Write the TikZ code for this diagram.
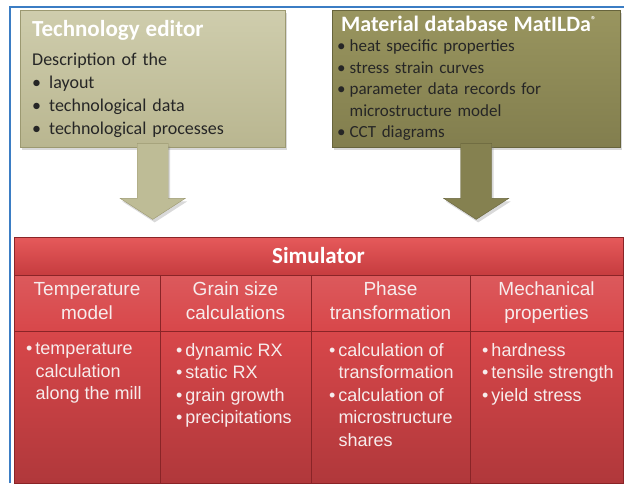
\documentclass[tikz,border=0pt]{standalone}
\usepackage{fontspec}
\setmainfont{Carlito}
\newfontfamily\simfont{Liberation Sans}
\usetikzlibrary{positioning,shadows}

\definecolor{slideblue}{HTML}{3B7DC4}
\definecolor{techtop}{HTML}{CFCDAD}
\definecolor{techbot}{HTML}{B9B690}
\definecolor{techline}{HTML}{9C9971}
\definecolor{mattop}{HTML}{99955F}
\definecolor{matbot}{HTML}{827E4E}
\definecolor{matline}{HTML}{67643C}
\definecolor{arrowlight}{HTML}{BEBC96}
\definecolor{arrowdark}{HTML}{858150}
\definecolor{simtop}{HTML}{E65A5B}
\definecolor{simmid}{HTML}{C63C3F}
\definecolor{simcell}{HTML}{D8474A}
\definecolor{simbot}{HTML}{B0383B}
\definecolor{simline}{HTML}{8A2427}
\definecolor{simtext}{HTML}{F7ECEC}

\newcommand{\boxtitle}{\fontsize{22}{24}\selectfont\bfseries\color{white}}
\newcommand{\hang}{\hphantom{\textbullet\,}}

\begin{document}
\begin{tikzpicture}[x=1pt, y=1pt,
  frameline/.style={draw=slideblue, line width=1.2pt},
  softshadow/.style={drop shadow={opacity=0.3, shadow xshift=2pt, shadow yshift=-3pt}},
  techbox/.style={draw=techline, top color=techtop, bottom color=techbot, softshadow,
    anchor=north west, align=left, minimum height=137pt, text width=241pt,
    inner xsep=12pt, inner ysep=0pt, font=\fontsize{18}{22.8}\selectfont, text=black!85},
  matbox/.style={draw=matline, top color=mattop, bottom color=matbot, softshadow,
    anchor=north west, align=left, minimum height=137pt, text width=278pt,
    inner xsep=5pt, inner ysep=0pt, font=\fontsize{17}{21.6}\selectfont, text=black!85},
  lightarrow/.style={draw=techline, fill=arrowlight, softshadow},
  darkarrow/.style={draw=matline, fill=arrowdark, softshadow},
  simtitle/.style={draw=simline, top color=simtop, bottom color=simmid, softshadow,
    text=white, font=\fontsize{23}{26}\selectfont\bfseries,
    minimum width=609pt, minimum height=38pt, outer sep=0pt},
  headcell/.style={draw=simline, top color=simcell!90!white, bottom color=simcell,
    text=simtext, font=\simfont\fontsize{19}{24}\selectfont, align=center,
    minimum height=56pt, inner sep=0pt, outer sep=0pt},
  bodycell/.style={draw=simline, top color=simcell, bottom color=simbot,
    minimum height=152pt, inner sep=0pt, outer sep=0pt},
  bodytext/.style={text=simtext, font=\simfont\fontsize{18}{22.5}\selectfont,
    align=left, anchor=north west, inner sep=0pt}]
\useasboundingbox (0,0) rectangle (624,-483);
\draw[frameline] (10,-483) -- (10,-7) -- (624,-7);

% input boxes
\node[techbox] (tech) at (20,-10) {%
  {\boxtitle\fontsize{23}{25}\selectfont Technology editor}\\[7pt]
  Description of the\\
  \textbullet\hspace{8pt}layout\\
  \textbullet\hspace{8pt}technological data\\
  \textbullet\hspace{8pt}technological processes};
\node[matbox] (mat) at (332,-10) {%
  \hspace*{4pt}{\boxtitle Material database MatILDa\raisebox{8pt}{\fontsize{10}{10}\selectfont ®}}\\[-2pt]
  \textbullet\hspace{4pt}heat specific properties\\
  \textbullet\hspace{4pt}stress strain curves\\
  \textbullet\hspace{4pt}parameter data records for\\
  \hphantom{\textbullet\hspace{4pt}}microstructure model\\
  \textbullet\hspace{4pt}CCT diagrams};

% block arrows
\coordinate[below=72pt of tech.south] (tipL);
\coordinate[below=72pt of mat.south] (tipR);
\draw[lightarrow] ([xshift=-15.5pt,yshift=4pt]tech.south) -- ([xshift=-15.5pt,yshift=21pt]tipL)
  -- ([xshift=-32.5pt,yshift=21pt]tipL) -- (tipL) -- ([xshift=32.5pt,yshift=21pt]tipL)
  -- ([xshift=15.5pt,yshift=21pt]tipL) -- ([xshift=15.5pt,yshift=4pt]tech.south) -- cycle;
\draw[darkarrow] ([xshift=-15.5pt,yshift=4pt]mat.south) -- ([xshift=-15.5pt,yshift=21pt]tipR)
  -- ([xshift=-32.5pt,yshift=21pt]tipR) -- (tipR) -- ([xshift=32.5pt,yshift=21pt]tipR)
  -- ([xshift=15.5pt,yshift=21pt]tipR) -- ([xshift=15.5pt,yshift=4pt]mat.south) -- cycle;

% simulator
\node[simtitle] (sim) at (318.5,-256) {Simulator};
\node[headcell, minimum width=146pt, below right=0pt and 0pt of sim.south west] (temphead) {Temperature\\model\vphantom{p}};
\node[headcell, minimum width=151pt, right=0pt of temphead] (grainhead) {Grain size\\calculations\vphantom{p}};
\node[headcell, minimum width=159pt, right=0pt of grainhead] (phasehead) {Phase\\transformation\vphantom{p}};
\node[headcell, minimum width=153pt, right=0pt of phasehead] (mechhead) {Mechanical\\properties};
\node[bodycell, minimum width=146pt, below=0pt of temphead] (tempbody) {};
\node[bodycell, minimum width=151pt, below=0pt of grainhead] (grainbody) {};
\node[bodycell, minimum width=159pt, below=0pt of phasehead] (phasebody) {};
\node[bodycell, minimum width=153pt, below=0pt of mechhead] (mechbody) {};

\node[bodytext] (temptext) at ([xshift=12pt,yshift=-12pt]tempbody.north west)
  {\textbullet\,temperature\\\hang calculation\\\hang along the mill};
\node[bodytext] (graintext) at ([xshift=16pt,yshift=-12pt]grainbody.north west)
  {\textbullet\,dynamic RX\\\textbullet\,static RX\\\textbullet\,grain growth\\\textbullet\,precipitations};
\node[bodytext] (phasetext) at ([xshift=18pt,yshift=-12pt]phasebody.north west)
  {\textbullet\,calculation of\\\hang transformation\\\textbullet\,calculation of\\\hang microstructure\\\hang shares};
\node[bodytext] (mechtext) at ([xshift=12pt,yshift=-12pt]mechbody.north west)
  {\textbullet\,hardness\\\textbullet\,tensile strength\\\textbullet\,yield stress};
\end{tikzpicture}
\end{document}
